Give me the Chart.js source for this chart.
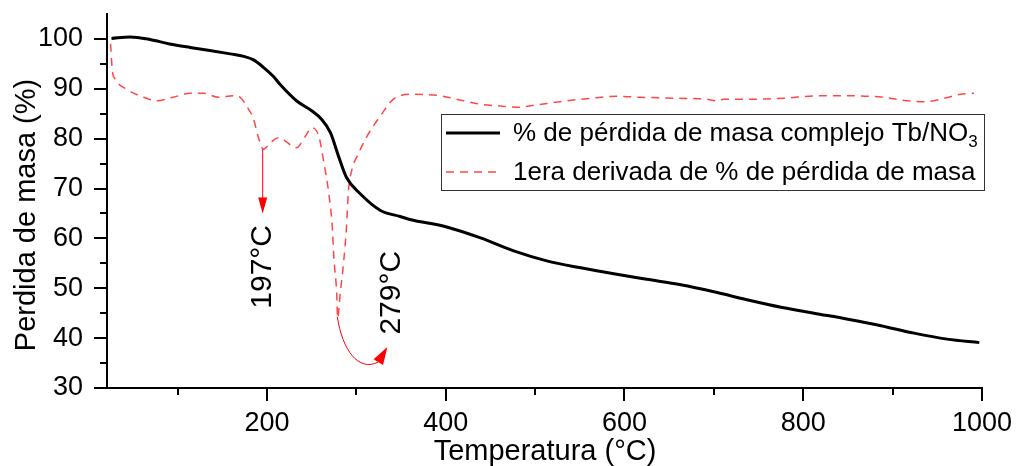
<!DOCTYPE html>
<html>
<head>
<meta charset="utf-8">
<script src="https://cdn.jsdelivr.net/npm/chart.js@4.4.1/dist/chart.umd.min.js"></script>
<style>
  body { margin: 0; background: #fff; }
  #wrap { width: 1017px; height: 466px; }
</style>
</head>
<body>
<div id="wrap"><canvas id="tgaChart" width="1017" height="466"></canvas></div>
<script>
const FONT = "'Liberation Sans', Arial, sans-serif";

// % de pérdida de masa (curva negra)
const tempMasa = [26, 47, 69, 91, 114, 136, 159, 174, 185, 196, 207, 215, 233, 250, 261, 271, 280, 289, 304, 327,
  349, 360, 401, 439, 476, 513, 551, 588, 625, 663, 700, 737, 775, 812, 850, 887, 924, 961, 997];
const masa = [100.1, 100.4, 99.9, 99.0, 98.3, 97.7, 97.0, 96.5, 95.8, 94.3, 92.5, 90.8, 87.6, 85.6, 83.9, 81.2, 76.5, 72.2, 69.0, 65.6,
  64.4, 63.8, 62.3, 60.1, 57.5, 55.5, 54.1, 52.9, 51.8, 50.7, 49.3, 47.7, 46.2, 45.0, 43.8, 42.5, 41.0, 39.8, 39.1];

// 1era derivada (curva roja discontinua)
const tempDeriv = [25, 27, 30, 43, 62, 77, 95, 114, 129, 146, 162, 170, 177, 185, 190, 196, 204, 213, 233, 243,
  250, 258, 263, 269, 273, 275, 278, 279, 282, 286, 289, 291, 295, 301, 312, 327, 342, 364, 394, 420,
  439, 457, 480, 502, 532, 562, 592, 618, 659, 692, 702, 711, 741, 778, 816, 853, 890, 916, 935, 958, 976, 991];
const deriv = [99.0, 93.6, 92.0, 89.9, 88.3, 87.6, 88.3, 89.1, 89.1, 88.3, 88.6, 88.3, 86.6, 83.9, 80.5, 77.9, 79.2, 80.2, 78.2, 80.5,
  82.2, 80.5, 75.9, 69.2, 62.4, 55.7, 49.0, 44.0, 49.0, 55.7, 62.4, 69.2, 73.8, 76.5, 80.5, 84.6, 88.0, 88.9, 88.6, 87.6,
  86.9, 86.6, 86.3, 86.8, 87.5, 88.1, 88.5, 88.3, 88.1, 87.9, 87.6, 87.9, 87.9, 88.1, 88.6, 88.6, 88.3, 87.6, 87.4, 88.1, 88.9, 89.1];

const xMajorTicks = [200, 400, 600, 800, 1000];
const xMinorTicks = [100, 300, 500, 700, 900];
const yMajorTicks = [30, 40, 50, 60, 70, 80, 90, 100];
const yMinorTicks = [35, 45, 55, 65, 75, 85, 95];

const labelMasa = '% de pérdida de masa complejo Tb/NO';
const labelMasaSub = '3';
const labelDeriv = '1era derivada de % de pérdida de masa';
const xTitle = 'Temperatura (°C)';
const yTitle = 'Perdida de masa (%)';

// anotaciones en unidades de datos (temperatura, masa)
const arrow197 = [[195.2, 77.9], [195.2, 65.0]];
const arrow279 = [[278.7, 44.3], [284.3, 37.6], [302.2, 33.2], [324.6, 35.2], [334.7, 38.2]];
const peakLabels = [
  { text: '197°C', x: 195.8, y: 54.3 },
  { text: '279°C', x: 340, y: 49.1 }
];

const toXY = (xs, ys) => xs.map((x, i) => ({ x, y: ys[i] }));

function arrowHead(ctx, fx, fy, tx, ty, halfW) {
  const ang = Math.atan2(ty - fy, tx - fx);
  ctx.beginPath();
  ctx.moveTo(tx, ty);
  ctx.lineTo(fx + Math.sin(ang) * halfW, fy - Math.cos(ang) * halfW);
  ctx.lineTo(fx - Math.sin(ang) * halfW, fy + Math.cos(ang) * halfW);
  ctx.closePath();
  ctx.fill();
}

const minorTicks = {
  id: 'minorTicks',
  afterDraw(chart) {
    const { ctx, scales: { x, y } } = chart;
    ctx.save();
    ctx.strokeStyle = '#000';
    ctx.lineWidth = 2;
    ctx.beginPath();
    xMinorTicks.forEach(v => {
      const px = Math.round(x.getPixelForValue(v));
      ctx.moveTo(px, y.bottom);
      ctx.lineTo(px, y.bottom + 7);
    });
    yMinorTicks.forEach(v => {
      const py = Math.round(y.getPixelForValue(v));
      ctx.moveTo(x.left, py);
      ctx.lineTo(x.left - 7, py);
    });
    ctx.stroke();
    ctx.restore();
  }
};

const annotations = {
  id: 'annotations',
  afterDatasetsDraw(chart) {
    const { ctx, scales: { x, y } } = chart;
    const P = p => [x.getPixelForValue(p[0]), y.getPixelForValue(p[1])];
    ctx.save();
    ctx.strokeStyle = '#ff0000';
    ctx.fillStyle = '#ff0000';
    ctx.lineWidth = 1;

    // flecha 197
    const a0 = P(arrow197[0]);
    const a1 = P(arrow197[1]);
    ctx.beginPath();
    ctx.moveTo(a0[0], a0[1]);
    ctx.lineTo(a1[0], a1[1] - 15);
    ctx.stroke();
    arrowHead(ctx, a1[0], a1[1] - 16, a1[0], a1[1], 4.5);

    // flecha curva 279
    const c = arrow279.map(P);
    ctx.beginPath();
    ctx.moveTo(c[0][0], c[0][1]);
    ctx.bezierCurveTo(c[1][0], c[1][1], c[2][0], c[2][1], c[3][0], c[3][1]);
    ctx.stroke();
    arrowHead(ctx, c[3][0], c[3][1], c[4][0], c[4][1], 5.5);

    // etiquetas
    ctx.fillStyle = '#000';
    ctx.font = '30px ' + FONT;
    ctx.textAlign = 'center';
    ctx.textBaseline = 'middle';
    peakLabels.forEach(l => {
      const p = P([l.x, l.y]);
      ctx.save();
      ctx.translate(p[0], p[1]);
      ctx.rotate(-Math.PI / 2);
      ctx.fillText(l.text, 0, 0);
      ctx.restore();
    });
    ctx.restore();
  }
};

const legendAndTitles = {
  id: 'legendAndTitles',
  afterDraw(chart) {
    const { ctx } = chart;
    ctx.save();
    // títulos de ejes
    ctx.fillStyle = '#000';
    ctx.font = '29px ' + FONT;
    ctx.textAlign = 'center';
    ctx.textBaseline = 'middle';
    ctx.fillText(xTitle, 545, 452);
    ctx.save();
    ctx.translate(27, 215);
    ctx.rotate(-Math.PI / 2);
    ctx.fillText(yTitle, 0, 0);
    ctx.restore();

    // leyenda
    ctx.fillStyle = '#fff';
    ctx.fillRect(441.5, 114.5, 543, 76);
    ctx.strokeStyle = '#333';
    ctx.lineWidth = 1;
    ctx.strokeRect(441.5, 114.5, 543, 76);

    ctx.strokeStyle = '#000';
    ctx.lineWidth = 3;
    ctx.beginPath();
    ctx.moveTo(446, 133);
    ctx.lineTo(500, 133);
    ctx.stroke();

    ctx.strokeStyle = 'rgba(255,0,0,0.72)';
    ctx.lineWidth = 1.5;
    ctx.setLineDash([8, 6]);
    ctx.beginPath();
    ctx.moveTo(446, 172);
    ctx.lineTo(502, 172);
    ctx.stroke();
    ctx.setLineDash([]);

    ctx.fillStyle = '#000';
    ctx.textAlign = 'left';
    ctx.font = '26px ' + FONT;
    ctx.fillText(labelMasa, 513, 134);
    const w = ctx.measureText(labelMasa).width;
    ctx.font = '17px ' + FONT;
    ctx.fillText(labelMasaSub, 513 + w, 142);
    ctx.font = '26px ' + FONT;
    ctx.fillText(labelDeriv, 513, 173);
    ctx.restore();
  }
};

new Chart(document.getElementById('tgaChart'), {
  type: 'line',
  data: {
    datasets: [
      {
        label: labelMasa + labelMasaSub,
        data: toXY(tempMasa, masa),
        borderColor: '#000',
        borderWidth: 3,
        pointRadius: 0,
        cubicInterpolationMode: 'monotone'
      },
      {
        label: labelDeriv,
        data: toXY(tempDeriv, deriv),
        borderColor: 'rgba(255,0,0,0.72)',
        borderWidth: 1.5,
        borderDash: [8, 6],
        pointRadius: 0,
        cubicInterpolationMode: 'monotone'
      }
    ]
  },
  options: {
    responsive: false,
    animation: false,
    devicePixelRatio: 1,
    layout: { padding: { top: 14, right: 35, left: 0, bottom: 0 } },
    plugins: {
      legend: { display: false },
      tooltip: { enabled: false }
    },
    scales: {
      x: {
        type: 'linear',
        min: 21,
        max: 1000,
        afterFit: scale => {
          scale.height = 78;
          scale.paddingLeft = 0;
          scale.paddingRight = 0;
        },
        afterBuildTicks: scale => { scale.ticks = xMajorTicks.map(v => ({ value: v })); },
        border: { display: true, color: '#000', width: 2 },
        grid: { drawOnChartArea: false, drawTicks: true, tickLength: 13, color: '#000', lineWidth: 2 },
        ticks: {
          color: '#000', font: { family: FONT, size: 27 }, padding: 6, maxRotation: 0,
          callback: v => String(v)
        }
      },
      y: {
        type: 'linear',
        min: 30,
        max: 105,
        afterFit: scale => {
          scale.width = 107;
          scale.paddingTop = 0;
          scale.paddingBottom = 0;
        },
        afterBuildTicks: scale => { scale.ticks = yMajorTicks.map(v => ({ value: v })); },
        border: { display: true, color: '#000', width: 2 },
        grid: { drawOnChartArea: false, drawTicks: true, tickLength: 13, color: '#000', lineWidth: 2 },
        ticks: { color: '#000', font: { family: FONT, size: 27 }, padding: 11, callback: v => String(v) }
      }
    }
  },
  plugins: [minorTicks, annotations, legendAndTitles]
});
</script>
</body>
</html>
